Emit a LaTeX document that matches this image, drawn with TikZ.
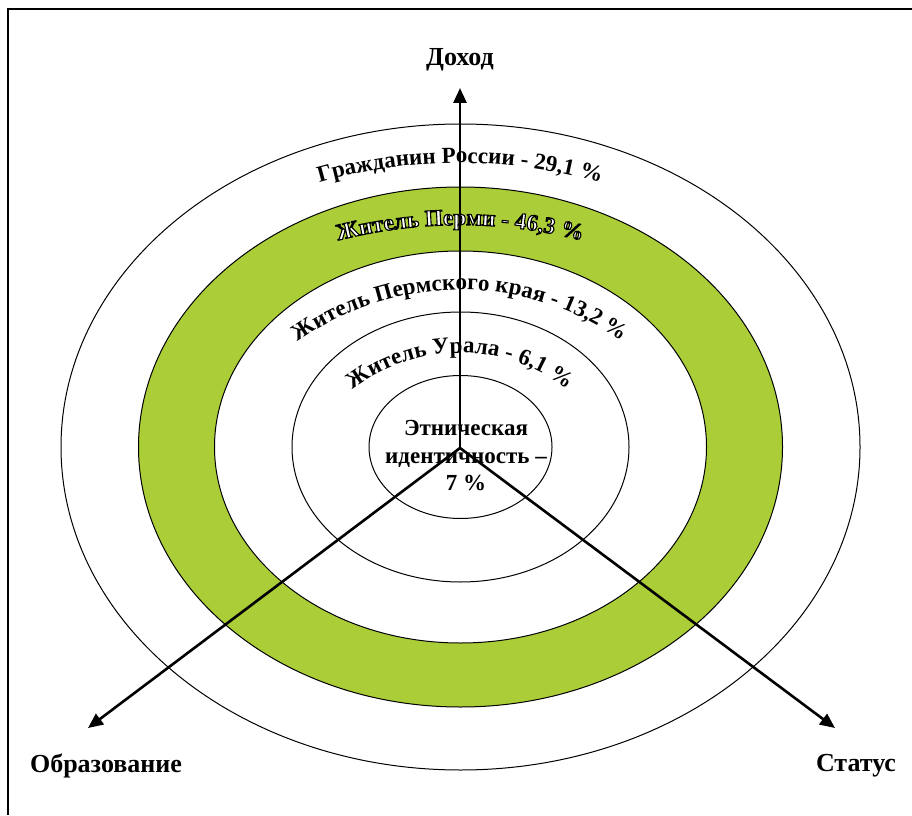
\documentclass[tikz,border=0pt]{standalone}
\usepackage{fontspec}
\setmainfont{Liberation Serif}
\usetikzlibrary{decorations.text,arrows.meta}
\definecolor{ringgreen}{RGB}{171,206,56}
\tikzset{
  ringline/.style={draw=black,line width=1pt},
  axis/.style={draw=black,line width=2.6pt,-{Triangle[length=15pt,width=13pt]}},
  axlabel/.style={font=\bfseries\fontsize{26}{30}\selectfont,inner sep=0pt},
  frameline/.style={draw=black,line width=1.6pt},
}
\newcommand{\rt}[1]{|\bfseries\fontsize{23}{27}\selectfont|#1}
\newcommand{\outlinedtext}{\color{white}\special{pdf:code 0 0 0 RG 2 Tr 1.1 w}}
\begin{document}
\begin{tikzpicture}[x=1pt,y=1pt]
\useasboundingbox (0,0) rectangle (912,815);
\fill[white] (0,0) rectangle (912,815);
% frame
\coordinate (f1) at (8,0);
\coordinate (f2) at (8,806);
\coordinate (f3) at (912,806);
\draw[frameline] (f1) -- (f2) -- (f3);
% ellipses
\coordinate (c) at (460.5,368);
\draw[ringline] (c) ellipse[x radius=399.5pt,y radius=323pt];
\fill[ringgreen] (c) ellipse[x radius=322pt,y radius=260pt];
\draw[ringline] (c) ellipse[x radius=322pt,y radius=260pt];
\fill[white] (c) ellipse[x radius=246pt,y radius=196pt];
\draw[ringline] (c) ellipse[x radius=246pt,y radius=196pt];
\draw[ringline] (c) ellipse[x radius=168.5pt,y radius=135pt];
\draw[ringline] (c) ellipse[x radius=91.5pt,y radius=71.5pt];
% axes
\coordinate (o) at (460,367);
\coordinate (tup) at (460,727);
\coordinate (tleft) at (88,87);
\coordinate (tright) at (835,87);
\draw[axis] (o) -- (tup);
\draw[axis] (o) -- (tleft);
\draw[axis] (o) -- (tright);
% axis labels
\node[axlabel] (income) at (460,755) {Доход};
\node[axlabel] (edu) at (106,49) {Образование};
\node[axlabel] (status) at (856,49) {Статус};
% ring texts
\path[decorate,decoration={text along path,text align=center,
  text={\rt{Гражданин России - 29,1 {\%}}}},shift={(460,145)}]
  (120:507pt) arc[start angle=120,end angle=60,radius=507pt];
\begin{scope}
\path[decorate,decoration={text along path,text align=center,
  text={|\bfseries\fontsize{23}{27}\selectfont\outlinedtext|Житель Перми - 46,3 {\%}}},shift={(460,102)}]
  (120:488pt) arc[start angle=120,end angle=60,radius=488pt];
\end{scope}
\path[decorate,decoration={text along path,text align=center,
  text={\rt{Житель Пермского края - 13,2 {\%}}}},shift={(460,244)}]
  (150:281pt) arc[start angle=150,end angle=30,radius=281pt];
\path[decorate,decoration={text along path,text align=center,
  text={\rt{Житель Урала - 6,1 {\%}}}},shift={(460,286)}]
  (160:176pt) arc[start angle=160,end angle=20,radius=176pt];
% centre
\node[font=\bfseries\fontsize{23}{27.5}\selectfont,align=center,inner sep=0pt] (eth) at (466,359)
  {Этническая\\идентичность –\\7 \%};
\end{tikzpicture}
\end{document}
